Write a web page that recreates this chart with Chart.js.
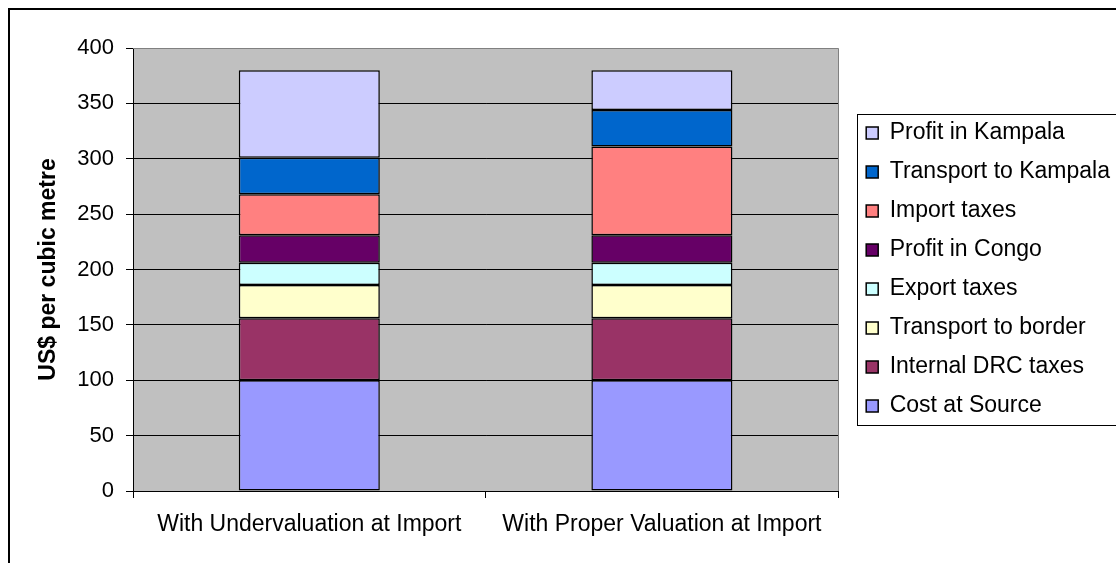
<!DOCTYPE html>
<html>
<head>
<meta charset="utf-8">
<title>Timber cost chain</title>
<script src="https://cdn.jsdelivr.net/npm/chart.js@4/dist/chart.umd.min.js"></script>
<style>
    html, body { margin: 0; padding: 0; background: #fff; }
    #wrap { width: 1116px; height: 563px; overflow: hidden; }
</style>
</head>
<body>
<div id="wrap"><canvas id="costChart" width="1116" height="563"></canvas></div>
<script>
// ==================== Data ====================
const categories = ['With Undervaluation at Import', 'With Proper Valuation at Import'];

const costAtSource = [100, 100];
const internalDrcTaxes = [56, 56];
const transportToBorder = [30, 30];
const exportTaxes = [20, 20];
const profitInCongo = [25, 25];
const importTaxes = [37, 80];
const transportToKampala = [33, 33];
const profitInKampala = [79, 36];

const yMin = 0;
const yMax = 400;
const yStep = 50;

// ==================== Styling ====================
const FONT = '"Liberation Sans", Arial, sans-serif';
const PLOT_BG = '#C0C0C0';

function segment(label, data, color) {
    return {
        label: label,
        data: data,
        backgroundColor: color,
        borderColor: '#000',
        borderWidth: 1.5,
        borderSkipped: false,
        barPercentage: 0.4,
        categoryPercentage: 1.0
    };
}

// background, outer frame, plot area + legend border
const framePlugin = {
    id: 'frame',
    beforeDraw(chart) {
        const { ctx, chartArea: a } = chart;
        ctx.save();
        ctx.fillStyle = '#fff';
        ctx.fillRect(0, 0, chart.width, chart.height);
        ctx.fillStyle = PLOT_BG;
        ctx.fillRect(a.left, a.top, a.right - a.left, a.bottom - a.top);
        ctx.strokeStyle = '#000';
        ctx.lineWidth = 2;
        ctx.strokeRect(9, 9, chart.width + 20, chart.height + 20);
        ctx.restore();
    },
    beforeDatasetsDraw(chart) {
        const { ctx, chartArea: a } = chart;
        ctx.save();
        ctx.strokeStyle = '#808080';
        ctx.lineWidth = 1;
        ctx.beginPath();
        ctx.moveTo(a.left, Math.round(a.top) + 0.5);
        ctx.lineTo(Math.round(a.right) + 0.5, Math.round(a.top) + 0.5);
        ctx.lineTo(Math.round(a.right) + 0.5, a.bottom);
        ctx.stroke();
        ctx.restore();
    },
    afterDraw(chart) {
        const boxes = chart.legend.legendHitBoxes;
        if (!boxes || !boxes.length) return;
        const { ctx } = chart;
        const first = boxes[0];
        const last = boxes[boxes.length - 1];
        const left = Math.round(first.left - 9) + 0.5;
        const top = Math.round(first.top - 7.5) + 0.5;
        const bottom = Math.round(last.top + last.height + 7.5) + 0.5;
        ctx.save();
        ctx.strokeStyle = '#000';
        ctx.lineWidth = 1;
        ctx.strokeRect(left, top, chart.width + 20 - left, bottom - top);
        ctx.restore();
    }
};

// ==================== Chart ====================
const ctx = document.getElementById('costChart').getContext('2d');
const costChart = new Chart(ctx, {
    type: 'bar',
    data: {
        labels: categories,
        datasets: [
            segment('Cost at Source', costAtSource, '#9999FF'),
            segment('Internal DRC taxes', internalDrcTaxes, '#993366'),
            segment('Transport to border', transportToBorder, '#FFFFCC'),
            segment('Export taxes', exportTaxes, '#CCFFFF'),
            segment('Profit in Congo', profitInCongo, '#660066'),
            segment('Import taxes', importTaxes, '#FF8080'),
            segment('Transport to Kampala', transportToKampala, '#0066CC'),
            segment('Profit in Kampala', profitInKampala, '#CCCCFF')
        ]
    },
    options: {
        responsive: false,
        animation: false,
        devicePixelRatio: 1,
        layout: {
            padding: { left: 20, top: 48, right: -4, bottom: 22 }
        },
        plugins: {
            tooltip: { enabled: false },
            legend: {
                position: 'right',
                fullSize: false,
                reverse: true,
                maxWidth: 320,
                labels: {
                    color: '#000',
                    font: { family: FONT, size: 23 },
                    boxWidth: 12,
                    boxHeight: 12,
                    padding: 16
                }
            }
        },
        scales: {
            x: {
                stacked: true,
                offset: true,
                grid: {
                    offset: true,
                    drawOnChartArea: false,
                    color: '#000',
                    tickLength: 7
                },
                border: { color: '#000', width: 1 },
                ticks: {
                    color: '#000',
                    padding: 13,
                    maxRotation: 0,
                    font: { family: FONT, size: 23 }
                },
                afterFit(scale) { scale.height = 50; }
            },
            y: {
                stacked: true,
                min: yMin,
                max: yMax,
                grid: {
                    color: (c) => (c.tick && c.tick.value === yMax ? '#808080' : '#000'),
                    tickColor: '#000',
                    tickLength: 7
                },
                border: { color: '#000', width: 1 },
                ticks: {
                    stepSize: yStep,
                    color: '#000',
                    padding: 12,
                    font: { family: FONT, size: 22 }
                },
                title: {
                    display: true,
                    text: 'US$ per cubic metre',
                    color: '#000',
                    padding: { top: 15, bottom: 0 },
                    font: { family: FONT, size: 23, weight: 'bold' }
                },
                afterFit(scale) { scale.width = 113; }
            },
            // empty gap between plot area and legend
            spacer: {
                type: 'linear',
                position: 'right',
                display: true,
                grid: { display: false, drawTicks: false },
                border: { display: false },
                ticks: { display: false },
                afterFit(scale) { scale.width = 12; }
            }
        }
    },
    plugins: [framePlugin]
});
</script>
</body>
</html>
